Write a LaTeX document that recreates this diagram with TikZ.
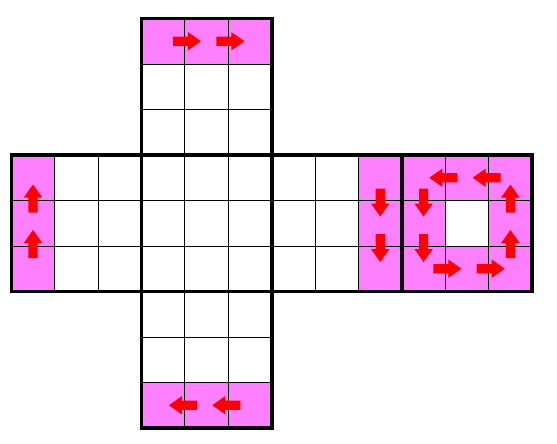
\documentclass[tikz,border=0pt]{standalone}
\usepackage{tikz}
\usetikzlibrary{positioning}
\definecolor{stickerpink}{RGB}{255,128,255}
\begin{document}
\begin{tikzpicture}[x=43.4pt,y=-45.5pt,
  face/.style={line width=3.6pt},
  gridline/.style={line width=0.9pt},
  sticker/.style={fill=stickerpink},
  turnarrow/.pic={\fill[red] (-12pt,-4.6pt) -- (3pt,-4.6pt) -- (3pt,-9.2pt) -- (16pt,0pt)
                          -- (3pt,9.2pt) -- (3pt,4.6pt) -- (-12pt,4.6pt) -- cycle;}
]
\useasboundingbox (-0.2604,-0.4066) rectangle (12.5737,9.3516);

%--- coloured stickers ---
\fill[sticker] (3,0) rectangle (6,1);   % up
\fill[sticker] (0,3) rectangle (1,6);   % left
\fill[sticker] (8,3) rectangle (9,6);   % right
\fill[sticker,even odd rule] (9,3) rectangle (12,6) (10,4) rectangle (11,5); % back
\fill[sticker] (3,8) rectangle (6,9);   % down

%--- faces of the net ---
\foreach \fx/\fy in {3/0,0/3,3/3,6/3,9/3,3/6} {
  \foreach \k in {1,2} {
    \draw[gridline] (\fx+\k,\fy) -- (\fx+\k,\fy+3);
    \draw[gridline] (\fx,\fy+\k) -- (\fx+3,\fy+\k);
  }
  \draw[face] (\fx,\fy) rectangle (\fx+3,\fy+3);
}

%--- moves ---
\foreach \ax/\ay/\ang in {4/0.5/0, 5/0.5/0,
                          0.5/4/90, 0.5/5/90,
                          8.5/4/-90, 8.5/5/-90,
                          10/3.5/180, 11/3.5/180, 11.5/4/90, 11.5/5/90,
                          10/5.5/0, 11/5.5/0, 9.5/4/-90, 9.5/5/-90,
                          4/8.5/180, 5/8.5/180}
  \pic[rotate=\ang] at (\ax,\ay) {turnarrow};
\end{tikzpicture}
\end{document}
